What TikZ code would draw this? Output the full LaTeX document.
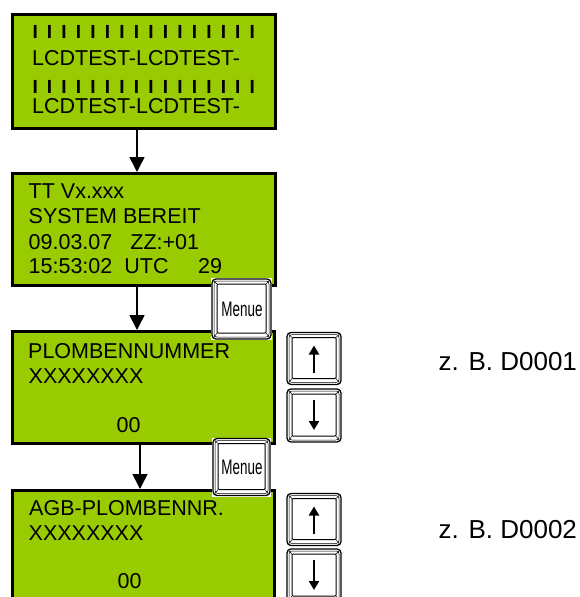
\documentclass[tikz,border=0pt]{standalone}
\usepackage{fontspec}
\setmainfont{Liberation Sans}
\usepackage{graphicx}
\usetikzlibrary{arrows.meta,calc}
\definecolor{lcdgreen}{RGB}{153,204,0}
\newcommand{\lcdbarunit}{\textbf{I}\kern9.2pt}
\newcommand{\lcdbarrow}{\lcdbarunit\lcdbarunit\lcdbarunit\lcdbarunit\lcdbarunit\lcdbarunit\lcdbarunit\lcdbarunit\lcdbarunit\lcdbarunit\lcdbarunit\lcdbarunit\lcdbarunit\lcdbarunit\lcdbarunit\textbf{I}}
\tikzset{
  lcd/.style={draw=black, line width=3pt, fill=lcdgreen, anchor=north west, inner sep=0pt},
  txt/.style={anchor=base west, inner sep=0pt, text=black, font=\fontsize{21.5pt}{25pt}\selectfont},
  bartxt/.style={anchor=base west, inner sep=0pt, text=black, font=\fontsize{19pt}{22pt}\selectfont},
  note/.style={anchor=base west, inner sep=0pt, text=black, font=\fontsize{26pt}{30pt}\selectfont},
  arr/.style={line width=1.5pt, -{Triangle[width=15pt,length=15pt]}},
  karr/.style={line width=2.8pt, -{Triangle[width=10pt,length=9pt]}},
  keycap/.style={minimum width=56pt, minimum height=54pt, inner sep=0pt, fill=white,
    font=\fontsize{21pt}{23pt}\selectfont,
    path picture={
      \draw[line width=1.3pt, rounded corners=4pt]
        ([shift={(1pt,-1pt)}]path picture bounding box.north west) rectangle
        ([shift={(-1pt,1pt)}]path picture bounding box.south east);
      \draw[line width=0.5pt, rounded corners=3pt]
        ([shift={(3pt,-3pt)}]path picture bounding box.north west) rectangle
        ([shift={(-3pt,3pt)}]path picture bounding box.south east);
      \draw[line width=1pt, rounded corners=1pt]
        ([shift={(6pt,-6pt)}]path picture bounding box.north west) rectangle
        ([shift={(-6pt,7pt)}]path picture bounding box.south east);
      \draw[line width=0.5pt]
        ([shift={(3pt,-3pt)}]path picture bounding box.north west) -- ([shift={(6pt,-6pt)}]path picture bounding box.north west)
        ([shift={(-3pt,-3pt)}]path picture bounding box.north east) -- ([shift={(-6pt,-6pt)}]path picture bounding box.north east)
        ([shift={(3pt,3pt)}]path picture bounding box.south west) -- ([shift={(6pt,7pt)}]path picture bounding box.south west)
        ([shift={(-3pt,3pt)}]path picture bounding box.south east) -- ([shift={(-6pt,7pt)}]path picture bounding box.south east);
    }},
}
\begin{document}
\begin{tikzpicture}[x=1pt,y=-1pt]
\useasboundingbox (0,0) rectangle (580,597);
\clip (0,0) rectangle (580,597);
\fill[white] (0,0) rectangle (580,597);

% LCD boxes
\node[lcd, minimum width=263pt, minimum height=114pt] (b1) at (11,13) {};
\node[lcd, minimum width=263pt, minimum height=112pt] (b2) at (11,172) {};
\node[lcd, minimum width=262pt, minimum height=112pt] (b3) at (11,330) {};
\node[lcd, minimum width=262pt, minimum height=150pt] (b4) at (11,489) {};

% arrows
\coordinate (ax1) at (137,0);
\coordinate (ax3) at (140,0);
\draw[arr] (b1.south -| ax1) -- (b2.north -| ax1);
\draw[arr] (b2.south -| ax1) -- (b3.north -| ax1);
\draw[arr] (b3.south -| ax3) -- (b4.north -| ax3);

% box 1 text
\node[bartxt] (t1a) at (32.3,38) {\lcdbarrow};
\node[txt] (t1b) at (32,65) {LCDTEST-LCDTEST-};
\node[bartxt] (t1c) at (32.3,93) {\lcdbarrow};
\node[txt] (t1d) at (32,113) {LCDTEST-LCDTEST-};

% box 2 text
\node[txt] (t2a) at (28.5,198) {TT Vx.xxx};
\node[txt] (t2b) at (28.5,223) {SYSTEM BEREIT};
\node[txt] (t2c) at (28.5,249) {09.03.07\hspace{18pt}ZZ:+01};
\node[txt] (t2d) at (28.5,273) {15:53:02\hspace{12pt}UTC\hspace{29.5pt}29};

% box 3 text
\node[txt] (t3a) at (28,358) {PLOMBENNUMMER};
\node[txt] (t3b) at (28.5,383) {XXXXXXXX};
\node[txt] (t3c) at (116.5,432) {00};

% box 4 text
\node[txt] (t4a) at (29,515) {AGB-PLOMBENNR.};
\node[txt] (t4b) at (28.5,540) {XXXXXXXX};
\node[txt] (t4c) at (117.5,588) {00};

% keys
\node[keycap, minimum width=61pt, minimum height=62pt] (m1) at (241.5,309) {\kern1pt\scalebox{0.64}[1]{Menue}};
\node[keycap, minimum width=59pt, minimum height=59pt] (m2) at (241.5,467) {\kern1pt\scalebox{0.64}[1]{Menue}};

\node[keycap] (u1) at (314,358.5) {};
\node[keycap, minimum height=55pt] (d1) at (314,415.5) {};
\node[keycap] (u2) at (314,519.5) {};
\node[keycap, minimum height=55pt] (d2) at (314,575.5) {};

\draw[karr] ($(u1.center)+(0,14.5)$) -- ($(u1.center)+(0,-13)$);
\draw[karr] ($(d1.center)+(0,-15.5)$) -- ($(d1.center)+(0,14.5)$);
\draw[karr] ($(u2.center)+(0,14.5)$) -- ($(u2.center)+(0,-13)$);
\draw[karr] ($(d2.center)+(0,-15.5)$) -- ($(d2.center)+(0,14.5)$);

% notes
\node[note] (n1) at (438.5,370) {z. B. D0001};
\node[note] (n2) at (438.5,538) {z. B. D0002};
\end{tikzpicture}
\end{document}
